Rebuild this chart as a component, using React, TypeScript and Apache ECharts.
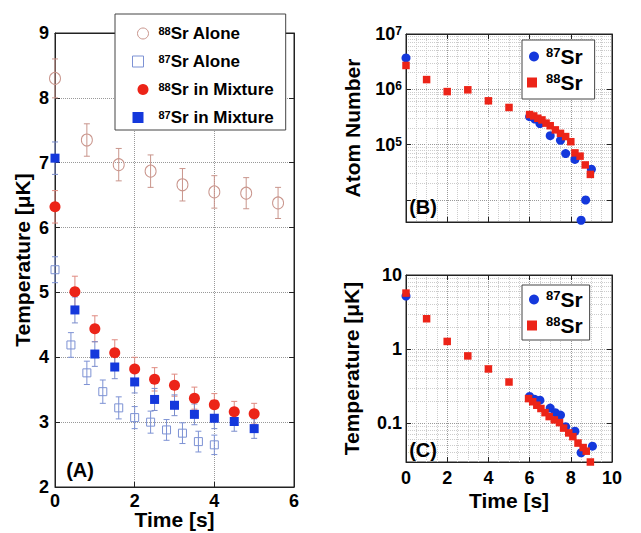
import React, { useEffect, useRef } from 'react';
import * as echarts from 'echarts';

const FONT = "'Liberation Sans', Arial, Helvetica, sans-serif";

// ---------- Panel A : temperature vs time ----------
const t88Alone = [0, 0.8, 1.6, 2.4, 3.2, 4.0, 4.8, 5.6];
const T88Alone = [8.30, 7.35, 6.97, 6.87, 6.66, 6.55, 6.53, 6.38];
const e88Alone = [0.3, 0.25, 0.25, 0.25, 0.25, 0.25, 0.24, 0.24];

const t87Alone = [0, 0.4, 0.8, 1.2, 1.6, 2.0, 2.4, 2.8, 3.2, 3.6, 4.0];
const T87Alone = [5.35, 4.19, 3.76, 3.47, 3.22, 3.07, 3.0, 2.88, 2.83, 2.70, 2.65];
const e87Alone = [0.2, 0.19, 0.18, 0.18, 0.17, 0.17, 0.17, 0.16, 0.16, 0.16, 0.15];

const tMix = [0, 0.5, 1, 1.5, 2, 2.5, 3, 3.5, 4, 4.5, 5];
const T88Mix = [6.32, 5.01, 4.44, 4.07, 3.82, 3.66, 3.57, 3.37, 3.27, 3.16, 3.13];
const e88Mix = [0.25, 0.24, 0.2, 0.2, 0.18, 0.18, 0.17, 0.17, 0.17, 0.16, 0.16];
const T87Mix = [7.07, 4.73, 4.05, 3.85, 3.62, 3.35, 3.26, 3.12, 3.06, 3.01, 2.90];
const e87Mix = [0.25, 0.2, 0.19, 0.18, 0.17, 0.17, 0.16, 0.16, 0.16, 0.15, 0.15];

// ---------- Panel B : atom number ----------
const tB87 = [0, 6.0, 6.25, 6.5, 7.0, 7.5, 7.75, 8.2, 8.5, 8.72, 9.0];
const NB87 = [3.7e6, 3.2e5, 2.9e5, 2.4e5, 1.45e5, 1.2e5, 6.9e4, 5.4e4, 4.3e3, 1.0e4, 3.6e4];
const tB88 = [0, 1, 2, 3, 4, 5, 6.0, 6.2, 6.4, 6.6, 6.8, 7.0, 7.25, 7.5, 7.75, 8.0, 8.2, 8.45, 8.7, 8.95];
const NB88 = [2.7e6, 1.5e6, 9.1e5, 9.8e5, 6.2e5, 4.7e5, 3.5e5, 3.3e5, 3.0e5, 2.8e5, 2.45e5, 2.2e5, 1.85e5, 1.6e5, 1.4e5, 1.13e5, 7.1e4, 6.2e4, 4.3e4, 2.9e4];

// ---------- Panel C : temperature (log) ----------
const tC87 = [0, 6.0, 6.25, 6.5, 7.0, 7.25, 7.5, 7.75, 8.2, 8.5, 9.05];
const TC87 = [5.2, 0.23, 0.21, 0.205, 0.16, 0.139, 0.129, 0.09, 0.078, 0.04, 0.049];
const tC88 = [0, 1, 2, 3, 4, 5, 5.95, 6.15, 6.35, 6.55, 6.75, 6.95, 7.2, 7.45, 7.65, 7.9, 8.1, 8.35, 8.6, 8.75, 8.95];
const TC88 = [5.7, 2.57, 1.27, 0.81, 0.54, 0.36, 0.215, 0.195, 0.175, 0.158, 0.139, 0.123, 0.111, 0.102, 0.086, 0.074, 0.066, 0.054, 0.047, 0.042, 0.030];

const RED = '#ec2418';
const BLUE = '#1438dc';
const PINK = '#c9958c';
const LBLUE = '#7d92d4';

const supName = (name: string) => {
  const m = name.match(/^(\d+)(.*)$/);
  return m ? `{s|${m[1]}}{t|${m[2]}}` : name;
};

const errItem = (color: string) => (params: any, api: any) => {
  const x = api.value(0), y = api.value(1), e = api.value(2);
  const top = api.coord([x, y + e]);
  const bot = api.coord([x, y - e]);
  const hw = 3;
  const style = { stroke: color, lineWidth: 1 };
  return {
    type: 'group',
    children: [
      { type: 'line', shape: { x1: top[0], y1: top[1], x2: bot[0], y2: bot[1] }, style },
      { type: 'line', shape: { x1: top[0] - hw, y1: top[1], x2: top[0] + hw, y2: top[1] }, style },
      { type: 'line', shape: { x1: bot[0] - hw, y1: bot[1], x2: bot[0] + hw, y2: bot[1] }, style },
    ],
  };
};

const labelStyle = { fontSize: 18, fontWeight: 'bold', color: '#000', fontFamily: FONT };
const xLabelStyle = { ...labelStyle, lineHeight: 14 };
const nameStyle = { fontSize: 21, fontWeight: 'bold', color: '#000', fontFamily: FONT };
const xNameStyle = { ...nameStyle, lineHeight: 20 };
const dotted = { show: true, lineStyle: { type: 'dotted', color: '#999', width: 1 } };
const axisLine = { show: true, onZero: false, lineStyle: { color: '#222', width: 1 } };
const tick = { show: true, inside: true, length: 5, lineStyle: { color: '#222' } };

const decadeFmt = (v: number) => {
  const l = Math.log10(v);
  if (Math.abs(l - Math.round(l)) > 1e-6) return '';
  return String(+v.toPrecision(3));
};
const powFmt = (v: number) => {
  const l = Math.log10(v);
  const r = Math.round(l);
  if (Math.abs(l - r) > 1e-6 || r === 4) return '';
  return `{b|10}{s|${r}}`;
};

const minorLines = (lo: number, hi: number) => {
  const out: number[] = [];
  for (let k = lo; k <= hi; k++) for (let m = 2; m <= 9; m++) out.push(m * Math.pow(10, k));
  return out;
};

const legendText = (big: number, small: number) => ({
  color: '#000', fontFamily: FONT, fontWeight: 'bold', fontSize: big,
  rich: {
    s: { fontSize: small, fontWeight: 'bold', color: '#000', fontFamily: FONT, verticalAlign: 'top' },
    t: { fontSize: big, fontWeight: 'bold', color: '#000', fontFamily: FONT },
  },
});

export default function App() {
  const ref = useRef<HTMLDivElement>(null);
  useEffect(() => {
    const chart = echarts.init(ref.current!, null, { renderer: 'svg' });

    const richLabel = {
      b: { fontSize: 18, fontWeight: 'bold', color: '#000', fontFamily: FONT },
      s: { fontSize: 12, fontWeight: 'bold', color: '#000', fontFamily: FONT, verticalAlign: 'top' },
    };

    const option: any = {
      animation: false,
      backgroundColor: '#fff',
      textStyle: { fontFamily: FONT },
      grid: [
        { left: 55, top: 33, width: 239, height: 454, show: true, borderColor: '#222', borderWidth: 1, outerBoundsMode: 'none' },
        { left: 406, top: 34, width: 206, height: 188, show: true, borderColor: '#222', borderWidth: 1, outerBoundsMode: 'none' },
        { left: 406, top: 275, width: 206, height: 187, show: true, borderColor: '#222', borderWidth: 1, outerBoundsMode: 'none' },
      ],
      xAxis: [
        {
          gridIndex: 0, type: 'value', min: 0, max: 6, interval: 2, position: 'bottom',
          axisLine, axisTick: tick, axisLabel: { ...xLabelStyle, margin: 7 }, splitLine: dotted,
          name: 'Time [s]', nameLocation: 'middle', nameGap: 22, nameMoveOverlap: false, nameTextStyle: xNameStyle,
        },
        {
          gridIndex: 0, type: 'value', min: 0, max: 6, interval: 2, position: 'top',
          axisLine, axisTick: tick, axisLabel: { show: false }, splitLine: { show: false },
        },
        {
          gridIndex: 1, type: 'value', min: 0, max: 10, interval: 2, position: 'bottom',
          axisLine, axisTick: tick, axisLabel: { show: false }, splitLine: dotted,
          minorTick: { show: false, splitNumber: 4 },
          minorSplitLine: { show: true, lineStyle: { type: 'dotted', color: '#ccc' } },
        },
        {
          gridIndex: 1, type: 'value', min: 0, max: 10, interval: 2, position: 'top',
          axisLine, axisTick: tick, axisLabel: { show: false }, splitLine: { show: false },
        },
        {
          gridIndex: 2, type: 'value', min: 0, max: 10, interval: 2, position: 'bottom',
          axisLine, axisTick: tick, axisLabel: { ...xLabelStyle, margin: 9 }, splitLine: dotted,
          minorTick: { show: false, splitNumber: 4 },
          minorSplitLine: { show: true, lineStyle: { type: 'dotted', color: '#ccc' } },
          name: 'Time [s]', nameLocation: 'middle', nameGap: 28, nameMoveOverlap: false, nameTextStyle: xNameStyle,
        },
        {
          gridIndex: 2, type: 'value', min: 0, max: 10, interval: 2, position: 'top',
          axisLine, axisTick: tick, axisLabel: { show: false }, splitLine: { show: false },
        },
      ],
      yAxis: [
        {
          gridIndex: 0, type: 'value', min: 2, max: 9, interval: 1, position: 'left',
          axisLine, axisTick: tick, axisLabel: { ...labelStyle, margin: 6 }, splitLine: dotted,
          name: 'Temperature [μK]', nameLocation: 'middle', nameGap: 22, nameMoveOverlap: false, nameTextStyle: nameStyle,
        },
        {
          gridIndex: 0, type: 'value', min: 2, max: 9, interval: 1, position: 'right',
          axisLine, axisTick: tick, axisLabel: { show: false }, splitLine: { show: false },
        },
        {
          gridIndex: 1, type: 'log', logBase: 10, min: 4000, max: 1e7, position: 'left',
          axisLine, axisTick: tick,
          axisLabel: { margin: 4, formatter: powFmt, rich: richLabel },
          splitLine: dotted,
          name: 'Atom Number', nameLocation: 'middle', nameGap: 43, nameMoveOverlap: false, nameTextStyle: nameStyle,
        },
        {
          gridIndex: 1, type: 'log', logBase: 10, min: 4000, max: 1e7, position: 'right',
          axisLine, axisTick: tick, axisLabel: { show: false }, splitLine: { show: false },
        },
        {
          gridIndex: 2, type: 'log', logBase: 10, min: 0.03, max: 10, position: 'left',
          axisLine, axisTick: tick,
          axisLabel: { ...labelStyle, margin: 4, formatter: decadeFmt },
          splitLine: dotted,
          name: 'Temperature [μK]', nameLocation: 'middle', nameGap: 44, nameMoveOverlap: false, nameTextStyle: nameStyle,
        },
        {
          gridIndex: 2, type: 'log', logBase: 10, min: 0.03, max: 10, position: 'right',
          axisLine, axisTick: tick, axisLabel: { show: false }, splitLine: { show: false },
        },
      ],
      legend: [
        {
          orient: 'vertical', left: 115, top: 14, padding: [11, 12, 4, 17], itemGap: 11,
          itemWidth: 21, itemHeight: 11, backgroundColor: '#fff', borderColor: '#444', borderWidth: 1,
          selectedMode: false, formatter: supName,
          data: [
            { name: '88Sr Alone', icon: 'circle', itemStyle: { color: 'rgba(0,0,0,0)', borderColor: PINK, borderWidth: 1 } },
            { name: '87Sr Alone', icon: 'square', itemStyle: { color: 'rgba(0,0,0,0)', borderColor: LBLUE, borderWidth: 1 } },
            { name: '88Sr in Mixture', icon: 'circle', itemStyle: { color: RED } },
            { name: '87Sr in Mixture', icon: 'square', itemStyle: { color: BLUE } },
          ],
          textStyle: legendText(17, 11),
        },
        {
          orient: 'vertical', left: 522, top: 40, padding: [6, 12, 6, 5], itemGap: 5,
          itemWidth: 14, itemHeight: 10, backgroundColor: '#fff', borderColor: '#444', borderWidth: 1,
          selectedMode: false, formatter: supName,
          data: [
            { name: '87Sr', icon: 'circle', itemStyle: { color: BLUE } },
            { name: '88Sr', icon: 'square', itemStyle: { color: RED } },
          ],
          textStyle: legendText(21, 13),
        },
        {
          orient: 'vertical', left: 522, top: 285, padding: [4, 7, 4, 5], itemGap: 5,
          itemWidth: 14, itemHeight: 10, backgroundColor: '#fff', borderColor: '#444', borderWidth: 1,
          selectedMode: false, formatter: supName,
          data: [
            { name: '87Sr', icon: 'circle', itemStyle: { color: BLUE } },
            { name: '88Sr', icon: 'square', itemStyle: { color: RED } },
          ],
          textStyle: legendText(21, 13),
        },
      ],
      graphic: [
        { type: 'text', x: 80, y: 470, z: 100, style: { text: '(A)', fill: '#000', font: `bold 20px ${FONT}`, align: 'center', verticalAlign: 'middle' } },
        { type: 'text', x: 423, y: 207, z: 100, style: { text: '(B)', fill: '#000', font: `bold 20px ${FONT}`, align: 'center', verticalAlign: 'middle' } },
        { type: 'text', x: 423, y: 450, z: 100, style: { text: '(C)', fill: '#000', font: `bold 20px ${FONT}`, align: 'center', verticalAlign: 'middle' } },
      ],
      series: [
        // Panel A error bars
        { type: 'custom', name: 'err88a', xAxisIndex: 0, yAxisIndex: 0, z: 1, clip: false, renderItem: errItem(PINK), encode: { x: 0, y: 1 }, data: t88Alone.map((x, i) => [x, T88Alone[i], e88Alone[i]]) },
        { type: 'custom', name: 'err87a', xAxisIndex: 0, yAxisIndex: 0, z: 1, clip: false, renderItem: errItem(LBLUE), encode: { x: 0, y: 1 }, data: t87Alone.map((x, i) => [x, T87Alone[i], e87Alone[i]]) },
        { type: 'custom', name: 'err88m', xAxisIndex: 0, yAxisIndex: 0, z: 1, clip: false, renderItem: errItem('#e08a80'), encode: { x: 0, y: 1 }, data: tMix.map((x, i) => [x, T88Mix[i], e88Mix[i]]) },
        { type: 'custom', name: 'err87m', xAxisIndex: 0, yAxisIndex: 0, z: 1, clip: false, renderItem: errItem('#7a8ccc'), encode: { x: 0, y: 1 }, data: tMix.map((x, i) => [x, T87Mix[i], e87Mix[i]]) },
        // Panel A markers
        { type: 'scatter', name: '88Sr Alone', xAxisIndex: 0, yAxisIndex: 0, z: 3, clip: false, symbol: 'circle', symbolSize: [11, 12], itemStyle: { color: 'rgba(0,0,0,0)', borderColor: PINK, borderWidth: 1, opacity: 1 }, data: t88Alone.map((x, i) => [x, T88Alone[i]]) },
        { type: 'scatter', name: '87Sr Alone', xAxisIndex: 0, yAxisIndex: 0, z: 3, clip: false, symbol: 'rect', symbolSize: 8, itemStyle: { color: 'rgba(0,0,0,0)', borderColor: LBLUE, borderWidth: 1, opacity: 1 }, data: t87Alone.map((x, i) => [x, T87Alone[i]]) },
        { type: 'scatter', name: '87Sr in Mixture', xAxisIndex: 0, yAxisIndex: 0, z: 3, clip: false, symbol: 'rect', symbolSize: 9, itemStyle: { color: BLUE, opacity: 1 }, data: tMix.map((x, i) => [x, T87Mix[i]]) },
        { type: 'scatter', name: '88Sr in Mixture', xAxisIndex: 0, yAxisIndex: 0, z: 3, clip: false, symbol: 'circle', symbolSize: 11, itemStyle: { color: RED, opacity: 1 }, data: tMix.map((x, i) => [x, T88Mix[i]]) },
        // Panel B
        { type: 'scatter', name: '87Sr', xAxisIndex: 2, yAxisIndex: 2, z: 3, clip: false, symbol: 'circle', symbolSize: 9, itemStyle: { color: BLUE, opacity: 1 }, data: tB87.map((x, i) => [x, NB87[i]]) },
        {
          type: 'scatter', name: '88Sr', xAxisIndex: 2, yAxisIndex: 2, z: 3, clip: false, symbol: 'rect', symbolSize: 7.5, itemStyle: { color: RED, opacity: 1 }, data: tB88.map((x, i) => [x, NB88[i]]),
          markLine: { silent: true, symbol: ['none', 'none'], label: { show: false }, z: 0, lineStyle: { type: 'dotted', color: '#ccc', width: 1 }, data: minorLines(4, 6).map((v) => ({ yAxis: v })) },
        },
        // Panel C
        { type: 'scatter', name: '87Sr', xAxisIndex: 4, yAxisIndex: 4, z: 3, clip: false, symbol: 'circle', symbolSize: 9, itemStyle: { color: BLUE, opacity: 1 }, data: tC87.map((x, i) => [x, TC87[i]]) },
        {
          type: 'scatter', name: '88Sr', xAxisIndex: 4, yAxisIndex: 4, z: 3, clip: false, symbol: 'rect', symbolSize: 7.5, itemStyle: { color: RED, opacity: 1 }, data: tC88.map((x, i) => [x, TC88[i]]),
          markLine: { silent: true, symbol: ['none', 'none'], label: { show: false }, z: 0, lineStyle: { type: 'dotted', color: '#ccc', width: 1 }, data: minorLines(-2, 0).filter((v) => v > 0.03).map((v) => ({ yAxis: v })) },
        },
      ],
    };
    chart.setOption(option);
    return () => chart.dispose();
  }, []);
  return <div ref={ref} style={{ position: 'absolute', left: 0, top: 0, width: 641, height: 533, background: '#fff' }} />;
}
